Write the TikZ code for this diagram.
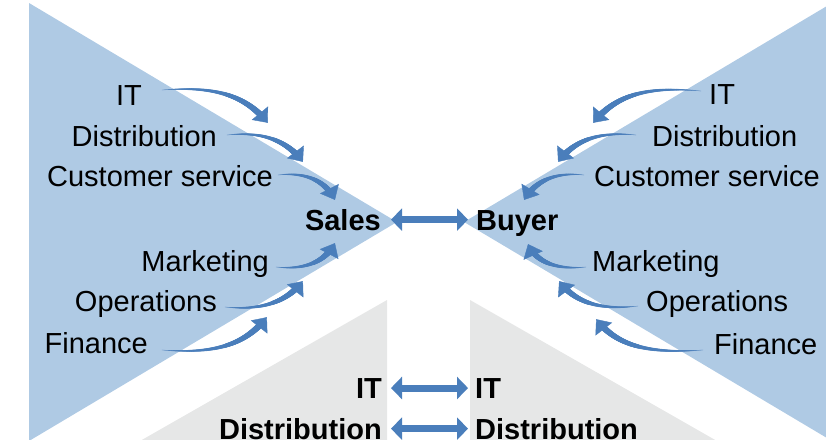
\documentclass[tikz,border=0pt]{standalone}
\usepackage{fontspec}
\setmainfont{Liberation Sans}
\usetikzlibrary{arrows.meta,decorations.markings}
\definecolor{triblue}{HTML}{AFCAE4}
\definecolor{arrowblue}{HTML}{4A7EBB}
\definecolor{trigrey}{HTML}{E6E7E7}
\tikzset{
  lbl/.style={inner sep=0pt, font=\fontsize{29}{34}\selectfont, text=black},
  blbl/.style={lbl, font=\fontsize{29}{34}\selectfont\bfseries},
  taper/.style={postaction={decorate}, decoration={markings,
    mark=between positions 0 and -8pt step 0.4pt with {
      \pgfmathsetmacro\tr{0.15+3.3*\pgfkeysvalueof{/pgf/decoration/mark info/distance from start}/\pgfdecoratedpathlength}
      \fill[arrowblue] (0,0) circle[radius=\tr pt];
    },
    mark=at position 1 with {\arrow[arrowblue]{Triangle[width=21pt,length=12.5pt]}}}},
  dbl/.style={draw=arrowblue, line width=7pt,
    {Triangle[width=22pt,length=11pt]}-{Triangle[width=22pt,length=11pt]}}
}
\begin{document}
\begin{tikzpicture}[x=1pt,y=-1pt]
\useasboundingbox (0,0) rectangle (826,439);
\clip (0,0) rectangle (826,439);
% background triangles
\fill[triblue] (29,3) -- (397,222) -- (29,441) -- cycle;
\fill[triblue] (832,3) -- (464,222) -- (832,441) -- cycle;
\fill[trigrey] (387,300) -- (387,445) -- (133,445) -- cycle;
\fill[trigrey] (470,300) -- (470,445) -- (724,445) -- cycle;
% left labels
\node[lbl, anchor=base east] (itL) at (142,105) {IT};
\node[lbl, anchor=base east] (distL) at (217,146.5) {Distribution};
\node[lbl, anchor=base east] (csL) at (273,186.5) {Customer service};
\node[blbl, anchor=base east] (sales) at (381,230) {Sales};
\node[lbl, anchor=base east] (mkL) at (269,271.5) {Marketing};
\node[lbl, anchor=base east] (opL) at (217,311.5) {Operations};
\node[lbl, anchor=base east] (finL) at (148,353) {Finance};
% right labels
\node[lbl, anchor=base west] (itR) at (709,104.5) {IT};
\node[lbl, anchor=base west] (distR) at (652,146) {Distribution};
\node[lbl, anchor=base west] (csR) at (594,186) {Customer service};
\node[blbl, anchor=base west] (buyer) at (476,230) {Buyer};
\node[lbl, anchor=base west] (mkR) at (592,271.5) {Marketing};
\node[lbl, anchor=base west] (opR) at (646,311.5) {Operations};
\node[lbl, anchor=base west] (finR) at (714,354) {Finance};
% bottom labels
\node[blbl, anchor=base east] (itBL) at (382,398) {IT};
\node[blbl, anchor=base east] (distBL) at (382,439) {Distribution};
\node[blbl, anchor=base west] (itBR) at (475,398) {IT};
\node[blbl, anchor=base west] (distBR) at (475,439) {Distribution};
% double arrows
\draw[dbl, shorten <=10pt, shorten >=8pt] (sales.east) -- (sales.east -| buyer.west);
\draw[dbl, shorten <=9pt, shorten >=7pt] (itBL.east) -- (itBL.east -| itBR.west);
\draw[dbl, shorten <=9pt, shorten >=7pt] (distBL.east) -- (distBL.east -| distBR.west);
% curved arrow ends
\coordinate (tItL) at (162,90);   \coordinate (eItL) at (268,123);
\coordinate (tDiL) at (227,135);  \coordinate (eDiL) at (303,162);
\coordinate (tCsL) at (278,175);  \coordinate (eCsL) at (335,200);
\coordinate (tMkL) at (276,267);  \coordinate (eMkL) at (335,243);
\coordinate (tOpL) at (225,307);  \coordinate (eOpL) at (303,281);
\coordinate (tFiL) at (162,350);  \coordinate (eFiL) at (267,317);
\coordinate (tItR) at (701,91);   \coordinate (eItR) at (593,123);
\coordinate (tDiR) at (636,135);  \coordinate (eDiR) at (558,162);
\coordinate (tCsR) at (584,175);  \coordinate (eCsR) at (524,200);
\coordinate (tMkR) at (586,267);  \coordinate (eMkR) at (528,244);
\coordinate (tOpR) at (638,306);  \coordinate (eOpR) at (559,281);
\coordinate (tFiR) at (703,350);  \coordinate (eFiR) at (596,319);
% curved arrows left
\path[taper] (tItL) .. controls (215,86) and (245,95) .. (eItL);
\path[taper] (tDiL) .. controls (265,131) and (288,142) .. (eDiL);
\path[taper] (tCsL) .. controls (305,172) and (325,180) .. (eCsL);
\path[taper] (tMkL) .. controls (305,270) and (325,262) .. (eMkL);
\path[taper] (tOpL) .. controls (265,311) and (288,300) .. (eOpL);
\path[taper] (tFiL) .. controls (215,354) and (245,345) .. (eFiL);
% curved arrows right
\path[taper] (tItR) .. controls (646,86) and (616,95) .. (eItR);
\path[taper] (tDiR) .. controls (596,131) and (573,142) .. (eDiR);
\path[taper] (tCsR) .. controls (556,172) and (536,180) .. (eCsR);
\path[taper] (tMkR) .. controls (556,270) and (536,262) .. (eMkR);
\path[taper] (tOpR) .. controls (596,311) and (573,300) .. (eOpR);
\path[taper] (tFiR) .. controls (646,354) and (616,345) .. (eFiR);
\end{tikzpicture}
\end{document}
